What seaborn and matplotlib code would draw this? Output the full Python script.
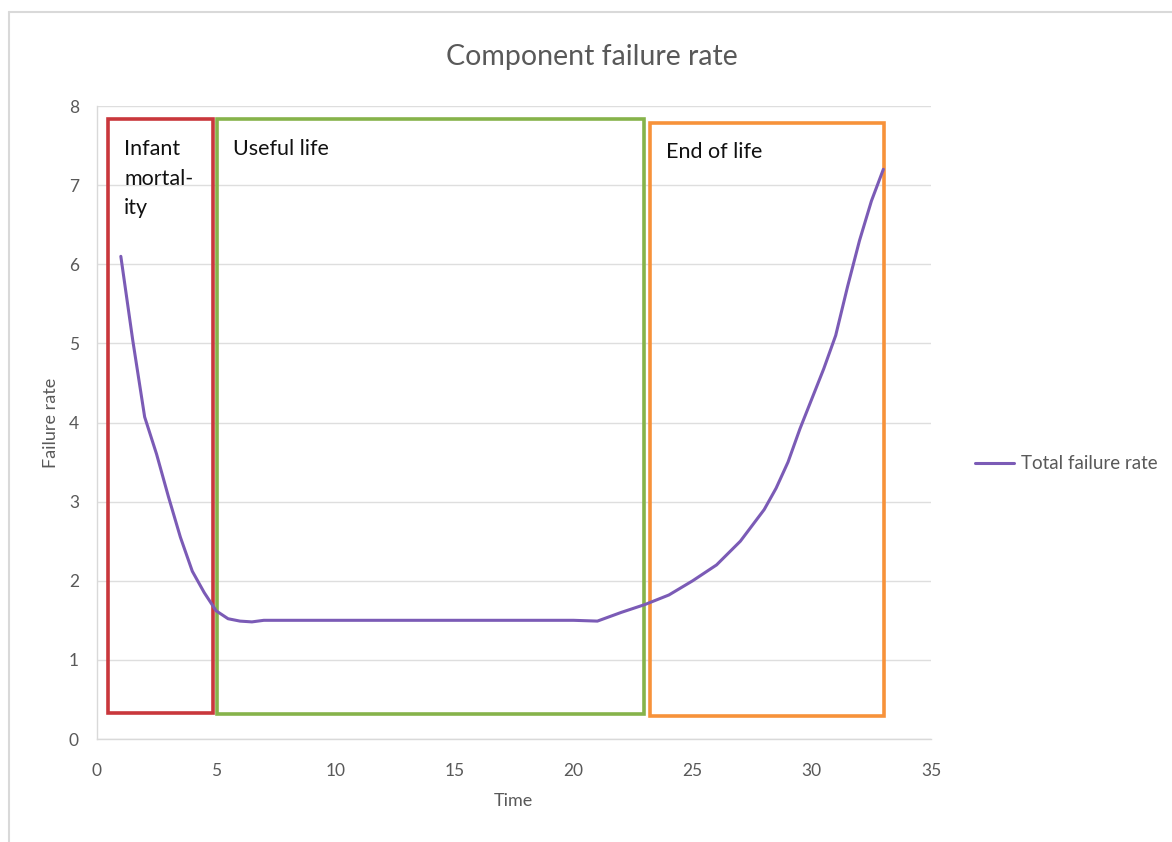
import matplotlib
matplotlib.use("Agg")
import matplotlib.pyplot as plt
from matplotlib.patches import Rectangle
from matplotlib.lines import Line2D
import seaborn as sns
import pandas as pd

# ---- data ----
time = [1, 1.5, 2, 2.5, 3, 3.5, 4, 4.5, 5, 5.5, 6, 6.5, 7, 8, 9, 10, 11, 12, 13, 14,
        15, 16, 17, 18, 19, 20, 21, 22, 23, 24, 25, 26, 27, 28, 28.5, 29, 29.5, 30,
        30.5, 31, 31.5, 32, 32.5, 33]
failure_rate = [6.1, 5.04, 4.07, 3.6, 3.06, 2.55, 2.12, 1.85, 1.62, 1.52, 1.49, 1.48, 1.5,
                1.5, 1.5, 1.5, 1.5, 1.5, 1.5, 1.5, 1.5, 1.5, 1.5, 1.5, 1.5, 1.5, 1.49,
                1.6, 1.7, 1.82, 2.0, 2.2, 2.5, 2.9, 3.17, 3.5, 3.92, 4.3,
                4.68, 5.1, 5.72, 6.3, 6.8, 7.2]
series_name = "Total failure rate"

# phase boxes: (label, x0, x1, y0, y1, colour)
phase_labels = ["Infant\nmortal-\nity", "Useful life", "End of life"]
phase_x0 = [0.46, 5.04, 23.2]
phase_x1 = [4.87, 22.95, 33.03]
phase_y0 = [0.33, 0.32, 0.29]
phase_y1 = [7.83, 7.83, 7.79]
phase_colors = ["#C9373C", "#86B34A", "#F7923A"]

title = "Component failure rate"
xlabel = "Time"
ylabel = "Failure rate"
xticks = [0, 5, 10, 15, 20, 25, 30, 35]
yticks = [0, 1, 2, 3, 4, 5, 6, 7, 8]

# ---- plotting ----
sns.set_theme(style="white")
plt.rcParams["font.family"] = ["Lato", "DejaVu Sans"]

fig = plt.figure(figsize=(11.72, 8.42), dpi=100)
ax = fig.add_axes([97 / 1172, 1 - 739 / 842, (931 - 97) / 1172, (739 - 106) / 842])

df = pd.DataFrame({"Time": time, "Failure rate": failure_rate})
sns.lineplot(data=df, x="Time", y="Failure rate", ax=ax, color="#7B5BB6",
             linewidth=2.2, label=series_name, zorder=4)

ax.set_xlim(0, 35)
ax.set_ylim(0, 8)
ax.set_xticks(xticks)
ax.set_yticks(yticks)
ax.tick_params(axis="both", length=0, labelsize=12.5, labelcolor="#595959")
ax.tick_params(axis="y", pad=13)
ax.tick_params(axis="x", pad=17)

ax.yaxis.grid(True, color="#DEDEDE", linewidth=1)
ax.xaxis.grid(False)
for s in ["top", "right"]:
    ax.spines[s].set_visible(False)
for s in ["left", "bottom"]:
    ax.spines[s].set_color("#D9D9D9")
    ax.spines[s].set_linewidth(1)

ax.set_xlabel(xlabel, fontsize=13, color="#595959")
ax.set_ylabel(ylabel, fontsize=13, color="#595959")
ax.xaxis.set_label_coords((513 - 97) / 834, (739 - 793) / 633)
ax.yaxis.set_label_coords((59 - 97) / 834, 0.5)

fig.text(592 / 1172, 1 - 57 / 842, title, fontsize=20.5, color="#595959",
         ha="center", va="center")

for lab, x0, x1, y0, y1, c in zip(phase_labels, phase_x0, phase_x1, phase_y0, phase_y1, phase_colors):
    ax.add_patch(Rectangle((x0, y0), x1 - x0, y1 - y0, fill=False, edgecolor=c,
                           linewidth=2.6, zorder=3))
    ax.text(x0 + 0.68, y1 - 0.25, lab, fontsize=15.5, color="#111111", ha="left", va="top",
            linespacing=1.6, zorder=5)

leg = ax.legend(loc="center left", bbox_to_anchor=(975 / 1172, 1 - 464 / 842),
                bbox_transform=fig.transFigure, frameon=False, fontsize=13.5,
                handlelength=2.1, handletextpad=0.35, borderpad=0, borderaxespad=0)
for t in leg.get_texts():
    t.set_color("#595959")

# outer chart border (light gray)
fig.add_artist(Line2D([9 / 1172, 9 / 1172], [0, 1 - 12 / 842], transform=fig.transFigure,
                      color="#D9D9D9", linewidth=1.5))
fig.add_artist(Line2D([9 / 1172, 1], [1 - 12 / 842, 1 - 12 / 842], transform=fig.transFigure,
                      color="#D9D9D9", linewidth=1.5))

fig.savefig("out.png", dpi=100)
